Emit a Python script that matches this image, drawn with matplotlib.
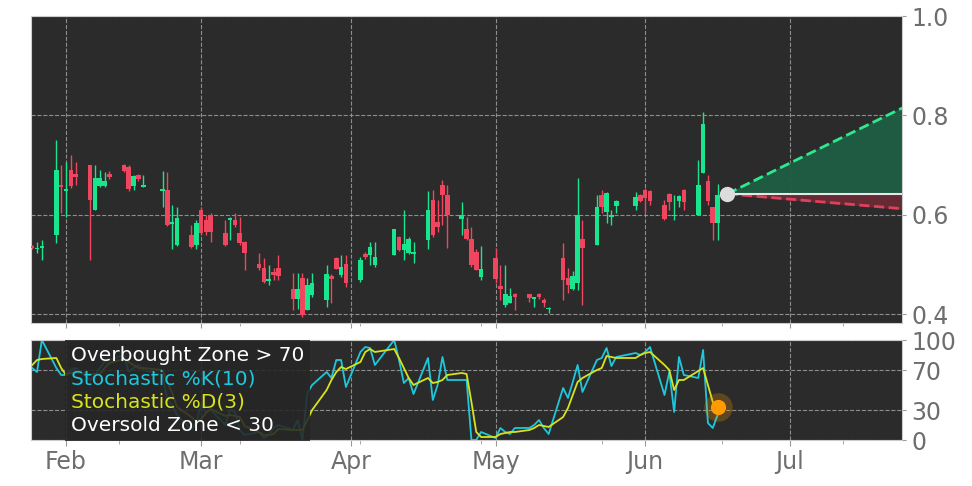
import matplotlib
matplotlib.use("Agg")
import matplotlib.pyplot as plt
import matplotlib.dates as mdates
from matplotlib.lines import Line2D
from matplotlib.ticker import FixedLocator
import numpy as np
import pandas as pd

# trading days shown (2023)
trade_days = [
    "01-25", "01-26", "01-27", "01-30", "01-31",
    "02-01", "02-02", "02-03", "02-06", "02-07", "02-08", "02-09", "02-10",
    "02-13", "02-14", "02-15", "02-16", "02-17", "02-21", "02-22", "02-23",
    "02-24", "02-27", "02-28",
    "03-01", "03-02", "03-03", "03-06", "03-07", "03-08", "03-09", "03-10",
    "03-13", "03-14", "03-15", "03-16", "03-17", "03-20", "03-21", "03-22",
    "03-23", "03-24", "03-27", "03-28", "03-29", "03-30", "03-31",
    "04-03", "04-04", "04-05", "04-06", "04-10", "04-11", "04-12", "04-13",
    "04-14", "04-17", "04-18", "04-19", "04-20", "04-21", "04-24", "04-25",
    "04-26", "04-27", "04-28",
    "05-01", "05-02", "05-03", "05-04", "05-05", "05-08", "05-09", "05-10",
    "05-11", "05-12", "05-15", "05-16", "05-17", "05-18", "05-19", "05-22",
    "05-23", "05-24", "05-25", "05-26", "05-30", "05-31",
    "06-01", "06-02", "06-05", "06-06", "06-07", "06-08", "06-09", "06-12",
    "06-13", "06-14", "06-15", "06-16",
]

opens = [
    .537, .530, .533, .560, .660,
    .648, .690, .681, .700, .610, .658, .658, .681, .700, .697, .658, .679, .656, .648, .650, .581, .540, .560, .540,
    .610, .590, .600, .563, .590, .590, .563, .545, .500, .493, .467, .485, .493, .450, .430, .473, .408, .439, .429, .477, .513, .479, .500,
    .469, .521, .519, .499, .519, .555, .529, .523, .521, .549, .630, .585, .660, .640, .592, .571, .551, .525, .475,
    .513, .457, .418, .423, .440, .440, .430, .440, .429, .410, .513, .473, .450, .463, .551, .539, .640, .606, .596, .618, .618, .640,
    .650, .648, .620, .642, .597, .628, .650, .600, .684, .668, .616, .583,
]
highs = [
    .540, .545, .549, .750, .700,
    .707, .720, .706, .700, .700, .690, .685, .688, .702, .700, .680, .682, .680, .687, .685, .620, .616, .580, .590,
    .615, .600, .604, .590, .596, .604, .596, .547, .523, .513, .499, .493, .519, .483, .483, .483, .473, .483, .499, .480, .515, .519, .519,
    .515, .525, .546, .546, .572, .558, .610, .555, .546, .647, .650, .630, .670, .660, .626, .596, .576, .530, .536,
    .533, .499, .499, .453, .443, .441, .435, .443, .432, .415, .543, .493, .486, .674, .590, .640, .650, .646, .610, .630, .646, .642,
    .654, .650, .630, .644, .640, .640, .652, .710, .807, .680, .616, .662,
]
lows = [
    .530, .522, .509, .543, .604,
    .596, .654, .660, .509, .610, .655, .656, .672, .685, .648, .650, .668, .655, .616, .578, .530, .536, .533, .530,
    .560, .560, .546, .536, .549, .576, .539, .489, .489, .463, .459, .469, .469, .408, .410, .395, .408, .435, .415, .422, .490, .475, .455,
    .465, .510, .499, .495, .519, .527, .509, .520, .503, .530, .556, .566, .580, .533, .559, .549, .495, .489, .469,
    .463, .429, .415, .422, .408, .425, .415, .430, .415, .403, .429, .443, .449, .449, .418, .539, .604, .583, .580, .604, .610, .625,
    .604, .620, .590, .610, .590, .616, .610, .600, .684, .620, .549, .549,
]
closes = [
    .533, .532, .536, .690, .655,
    .652, .658, .676, .630, .674, .674, .668, .675, .688, .652, .678, .671, .659, .651, .580, .586, .593, .535, .583,
    .563, .565, .565, .540, .594, .580, .543, .523, .493, .465, .470, .479, .477, .430, .450, .398, .459, .463, .481, .470, .491, .495, .463,
    .509, .515, .535, .515, .571, .529, .541, .551, .525, .610, .559, .575, .640, .600, .600, .551, .499, .489, .491,
    .471, .451, .440, .437, .435, .433, .434, .434, .423, .412, .469, .459, .477, .600, .533, .616, .616, .644, .600, .628, .636, .628,
    .634, .628, .592, .626, .600, .638, .626, .660, .783, .628, .583, .640,
]

stoch_k = [
    72, 68, 100, 72, 65,
    65, 70, 72, 60, 65, 72, 78, 80, 85, 68, 72, 75, 70, 65, 40, 35, 25, 10, 18,
    35, 28, 30, 15, 30, 28, 10, 5, 8, 2, 5, 12, 15, 10, 20, 0, 47, 55, 68, 62, 80, 80, 53,
    88, 93, 92, 75, 100, 80, 57, 62, 46, 82, 40, 55, 83, 60, 60, 60, 0, 0, 8,
    2, 12, 8, 6, 12, 12, 15, 20, 12, 6, 52, 42, 58, 75, 48, 80, 82, 92, 74, 83, 87, 85,
    88, 93, 45, 68, 28, 83, 65, 62, 90, 17, 12, 25,
]
stoch_d = [
    75, 80, 81, 82, 72,
    65, 67, 68, 66, 66, 66, 72, 77, 81, 78, 75, 72, 72, 70, 58, 47, 33, 23, 18,
    21, 27, 31, 24, 25, 24, 23, 14, 8, 5, 5, 6, 11, 10, 10, 10, 20, 30, 50, 60, 68, 73, 71,
    78, 88, 91, 88, 91, 82, 72, 62, 55, 62, 57, 58, 60, 65, 67, 66, 38, 8, 3,
    3, 6, 7, 8, 8, 10, 12, 15, 14, 13, 23, 32, 45, 58, 62, 70, 72, 84, 83, 82, 82, 85,
    87, 88, 75, 70, 50, 60, 60, 69, 72, 55, 38, 33,
]

# projection cone
proj_dates = ["2023-06-18", "2023-07-24"]
proj_base = [0.642, 0.642]
proj_high = [0.642, 0.815]
proj_low = [0.642, 0.612]

legend_labels = ["Overbought Zone > 70", "Stochastic %K(10)", "Stochastic %D(3)", "Oversold Zone < 30"]

dates = pd.to_datetime(["2023-" + d for d in trade_days])
x = mdates.date2num(dates)
o = np.array(opens); h = np.array(highs); l = np.array(lows); c = np.array(closes)
px = mdates.date2num(pd.to_datetime(proj_dates))
px[-1] += 0.3

GREEN = "#19e58f"
RED = "#f0455e"
BG = "#2b2b2b"
CYAN = "#1ec8dc"
YELLOW = "#d7e31b"
TICK = "#6e6e6e"

fig = plt.figure(figsize=(9.72, 4.86), dpi=100)
ax = fig.add_axes([31/972, 1-323/486, 871/972, 307/486])
ax2 = fig.add_axes([31/972, 1-440/486, 871/972, 100/486], sharex=ax)

for a in (ax, ax2):
    a.set_facecolor(BG)
    for s in a.spines.values():
        s.set_color("#cccccc")
    a.grid(True, ls="--", color="#a0a0a0", lw=0.8, alpha=0.85)
    a.set_axisbelow(True)
    a.yaxis.tick_right()
    a.tick_params(axis="y", labelsize=17, labelcolor=TICK, color="#999999", length=3)
    a.tick_params(axis="x", which="both", color="#999999")

# candles
up = c >= o
cols = np.where(up, GREEN, RED)
ax.vlines(x, l, h, color=cols, lw=1, zorder=2)
body_lo = np.minimum(o, c)
body_h = np.maximum(np.abs(c - o), 0.003)
ax.bar(x, body_h, bottom=body_lo, width=0.95, color=cols, zorder=3)

# projection
ax.fill_between(px, proj_base, proj_high, color="#1f5e44", alpha=0.95, zorder=1)
ax.fill_between(px, proj_base, proj_low, color="#6a2a36", alpha=0.95, zorder=1)
ax.plot(px, proj_high, ls="--", color="#2ee88e", lw=2, zorder=4)
ax.plot(px, proj_low, ls="--", color="#e0405a", lw=2, zorder=4)
ax.plot(px, proj_base, color="#e6e6e6", lw=1.5, zorder=4)
ax.scatter(px[0], proj_base[0], s=100, color="#dcdcdc", zorder=5)

ax.set_ylim(0.382, 1.0)
ax.set_yticks([0.4, 0.6, 0.8, 1.0])
ax.tick_params(axis="x", labelbottom=False)

# stochastic panel
ax2.plot(x, stoch_k, color=CYAN, lw=1.3, zorder=2)
ax2.plot(x, stoch_d, color=YELLOW, lw=1.3, zorder=3)
ax2.scatter(x[-1], stoch_d[-1], s=420, color="#ff9a00", alpha=0.25, lw=0, zorder=4)
ax2.scatter(x[-1], stoch_d[-1], s=120, color="#ff9a00", lw=0, zorder=5)
ax2.set_ylim(0, 100)
ax2.set_yticks([0, 30, 70, 100])

ax2.set_xlim(mdates.date2num(pd.Timestamp("2023-01-24 18:00")),
             mdates.date2num(pd.Timestamp("2023-07-24 05:00")))
ax2.xaxis.set_major_locator(mdates.MonthLocator())
ax2.xaxis.set_major_formatter(mdates.DateFormatter("%b"))
minor_days = pd.to_datetime(["2023-02-12", "2023-03-09", "2023-04-03", "2023-04-28",
                             "2023-05-23", "2023-06-17", "2023-07-12"])
ax2.xaxis.set_minor_locator(FixedLocator(mdates.date2num(minor_days)))
ax2.tick_params(axis="x", labelsize=17, labelcolor=TICK, length=4)
ax2.tick_params(axis="x", which="minor", length=3)

handles = [Line2D([], [], alpha=0) for _ in legend_labels]
leg = ax2.legend(handles, legend_labels, loc="upper left", bbox_to_anchor=(0.039, 1.0),
                 borderaxespad=0, frameon=True, fancybox=False, framealpha=0.88,
                 facecolor="#262626", edgecolor="none", fontsize=14.5,
                 handlelength=0, handletextpad=0, labelspacing=0.22, borderpad=0.3,
                 labelcolor=["white", CYAN, YELLOW, "white"])
leg.set_zorder(6)

fig.savefig("out.png", dpi=100)
